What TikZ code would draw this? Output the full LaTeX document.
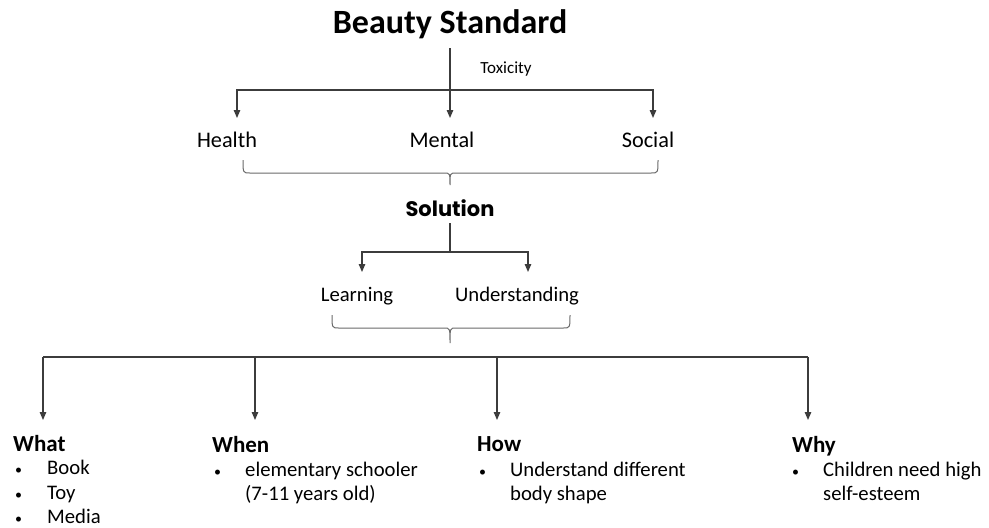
\documentclass[tikz,border=0pt]{standalone}
\usepackage{fontspec}
\setmainfont{Carlito}
\newfontfamily\popfont{Poppins}
\usetikzlibrary{arrows.meta}
\definecolor{linecol}{HTML}{3C3C3C}
\definecolor{brcol}{HTML}{6A6A6A}
\newcommand\mybul[1]{\makebox[#1][l]{\fontsize{14}{14}\selectfont•}}
\begin{document}
\begin{tikzpicture}[x=1pt,y=-1pt,
  conn/.style={draw=linecol, line width=1.3pt},
  arr/.style={conn, -{Triangle[width=6.5pt,length=8pt]}},
  brc/.style={draw=brcol, line width=1pt},
  lbl/.style={inner sep=0pt, anchor=base, font=\fontsize{22.3}{26}\selectfont},
  sub/.style={inner sep=0pt, anchor=base, font=\fontsize{20.7}{25}\selectfont},
  head/.style={inner sep=0pt, anchor=base west, font=\fontsize{23}{27}\selectfont\bfseries},
  lst/.style={inner sep=0pt, anchor=base west, font=\fontsize{20.7}{24.5}\selectfont}]
\useasboundingbox (0,0) rectangle (989,528);

% top
\node[inner sep=0pt, anchor=base, font=\fontsize{34}{40}\selectfont\bfseries] (bs) at (450,33) {Beauty Standard};
\node[inner sep=0pt, anchor=base, font=\fontsize{17}{20}\selectfont] (tox) at (506,73) {Toxicity};
\node[lbl] (health) at (227,147) {Health};
\node[lbl] (mental) at (442,147) {Mental};
\node[lbl] (social) at (648,147) {Social};

\coordinate (bsS) at (450,48);
\coordinate (j1) at (450,90);
\coordinate (hT) at (237,118);
\coordinate (mT) at (450,118);
\coordinate (sT) at (653,118);
\draw[arr] (bsS) -- (mT);
\draw[arr] (j1) -| (hT);
\draw[arr] (j1) -| (sT);

% brace 1
\draw[brc] (243,160) .. controls (243,173) .. (250,173) -- (444,173)
  .. controls (450,173) .. (450,185) .. controls (450,173) .. (456,173)
  -- (651,173) .. controls (658,173) .. (658,160);

% solution
\node[inner sep=0pt, anchor=base, font=\fontsize{21}{25}\selectfont\popfont\bfseries] (sol) at (450,216) {Solution};
\node[sub] (learn) at (357,301) {Learning};
\node[sub] (und) at (517,301) {Understanding};
\coordinate (solS) at (450,223);
\coordinate (j2) at (450,252);
\coordinate (lT) at (362,272);
\coordinate (uT) at (528,272);
\draw[conn] (solS) -- (j2);
\draw[arr] (j2) -| (lT);
\draw[arr] (j2) -| (uT);

% brace 2
\draw[brc] (332,315) .. controls (332,328) .. (339,328) -- (444,328)
  .. controls (450,328) .. (450,343) .. controls (450,328) .. (456,328)
  -- (563,328) .. controls (570,328) .. (570,315);

% bottom
\coordinate (b1) at (43,357);
\coordinate (b2) at (255,357);
\coordinate (b3) at (497,357);
\coordinate (b4) at (808,357);
\coordinate (wT1) at (43,420);
\coordinate (wT2) at (255,420);
\coordinate (wT3) at (497,420);
\coordinate (wT4) at (808,420);
\draw[conn] (b1) -- (b4);
\draw[arr] (b1) -- (wT1);
\draw[arr] (b2) -- (wT2);
\draw[arr] (b3) -- (wT3);
\draw[arr] (b4) -- (wT4);

\node[head] (what) at (13,451) {What};
\node[head] (when) at (212,452) {When};
\node[head] (how) at (477,451) {How};
\node[head] (why) at (792,452) {Why};

\node[lst] (whatl) at (15,474.5) {\parbox[t]{150pt}{\mybul{32pt}Book\\\mybul{32pt}Toy\\\mybul{32pt}Media}};
\node[lst] (whenl) at (214,476) {\parbox[t]{250pt}{\mybul{31pt}elementary schooler\\\hspace*{31pt}(7-11 years old)}};
\node[lst] (howl) at (479,476) {\parbox[t]{250pt}{\mybul{31pt}Understand different\\\hspace*{31pt}body shape}};
\node[lst] (whyl) at (792,476) {\parbox[t]{190pt}{\mybul{31pt}Children need high\\\hspace*{31pt}self-esteem}};
\end{tikzpicture}
\end{document}
